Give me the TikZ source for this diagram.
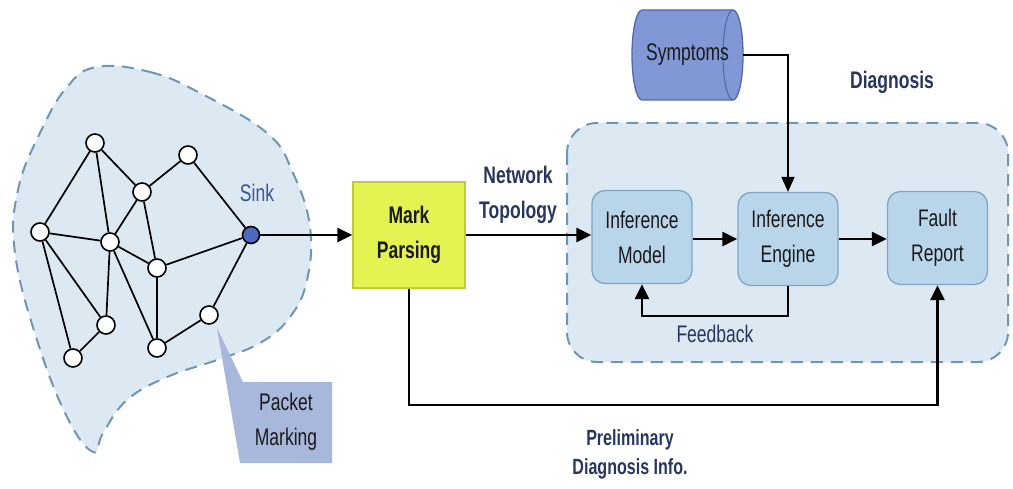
\documentclass[tikz,border=0pt]{standalone}
\usepackage{fontspec}
\newfontfamily\diagfont[FakeStretch=0.73]{Liberation Sans}
\usetikzlibrary{arrows.meta,calc}
\definecolor{regfill}{HTML}{DDE9F2}
\definecolor{regline}{HTML}{6F97B3}
\definecolor{boxfill}{HTML}{B9D5EA}
\definecolor{boxline}{HTML}{7EA6C4}
\definecolor{mpfill}{HTML}{E5F352}
\definecolor{mpline}{HTML}{BCCC3C}
\definecolor{labblue}{HTML}{26365F}
\definecolor{sinkblue}{HTML}{4A6BC0}
\definecolor{symfill}{HTML}{8197D6}
\definecolor{symline}{HTML}{5468A8}
\definecolor{callfill}{HTML}{A8B8DC}
\definecolor{txt}{HTML}{1A1A1A}
\tikzset{
  txtfont/.style={font=\diagfont\fontsize{24}{35}\selectfont, align=center},
  region/.style={fill=regfill, draw=regline, line width=2pt, dash pattern=on 12pt off 8pt},
  gnode/.style={circle, draw=black, line width=1.6pt, fill=white, minimum size=18pt, inner sep=0pt},
  gedge/.style={line width=1.7pt, black},
  ibox/.style={txtfont, text=txt, rounded corners=13pt, fill=boxfill, draw=boxline, line width=1.3pt, minimum width=100pt, minimum height=93pt, inner sep=0pt},
  arr/.style={line width=2.6pt, black, -{Triangle[length=15pt,width=14pt]}},
  thinarr/.style={line width=1.8pt, black, -{Triangle[length=15pt,width=13pt]}},
  lab/.style={txtfont, text=labblue},
  blab/.style={txtfont, text=labblue, font=\diagfont\bfseries\fontsize{24}{35}\selectfont},
}
\begin{document}
\begin{tikzpicture}[x=1pt,y=-1pt]
\useasboundingbox (0,0) rectangle (1013,489);
% network region blob
\draw[region] plot[smooth cycle, tension=0.7] coordinates {
 (97,67) (150,72) (200,93) (267,133) (293,173) (310,227) (307,280) (290,317)
 (260,343) (217,360) (167,377) (127,400) (103,433) (93,452) (67,417) (37,340)
 (15,253) (18,190) (40,133) (67,87)};
% callout
\fill[callfill] (217,328) -- (243,382) -- (332,382) -- (332,463) -- (240,463) -- cycle;
\node[txtfont, text=txt] (pm) at (286,422) {Packet\\Marking};
% graph
\node[gnode] (n1) at (40,232) {};
\node[gnode] (n2) at (95,143) {};
\node[gnode] (n3) at (142,192) {};
\node[gnode] (n4) at (188,155) {};
\node[gnode] (n5) at (110,242) {};
\node[gnode] (n6) at (157,268) {};
\node[gnode] (n7) at (106,325) {};
\node[gnode] (n8) at (73,358) {};
\node[gnode] (n9) at (157,348) {};
\node[gnode] (n10) at (209,315) {};
\node[gnode, fill=sinkblue, minimum size=17pt] (sink) at (251,235) {};
\foreach \a/\b in {n1/n2,n1/n5,n1/n7,n1/n8,n2/n5,n2/n3,n3/n4,n3/n5,n3/n6,n4/sink,n5/n6,n5/n7,n5/n9,n6/sink,n6/n9,n7/n8,n9/n10,n10/sink}
  \draw[gedge] (\a) -- (\b);
\node[txtfont, text=sinkblue!80!black] (sinklab) at (257,193) {Sink};
% diagnosis region
\draw[region, rounded corners=30pt] (567,123) rectangle (1008,362);
\node[blab] (diaglab) at (892,82) {Diagnosis};
% mark parsing
\node[txtfont, font=\diagfont\bfseries\fontsize{24}{35}\selectfont, text=txt, fill=mpfill, draw=mpline, line width=1.3pt, minimum width=112pt, minimum height=106pt, inner sep=0pt] (mp) at (409,235) {Mark\\Parsing};
% boxes
\node[ibox] (im) at (642,237) {Inference\\Model};
\node[ibox] (ie) at (788,239) {Inference\\Engine};
\node[ibox] (fr) at (937.5,238) {Fault\\Report};
% symptoms cylinder
\fill[symfill] (642,10) -- (733,10) arc(-90:90:10 and 45) -- (642,100) arc(90:270:10 and 45) -- cycle;
\draw[symline, line width=1.3pt] (642,10) -- (733,10) arc(-90:90:10 and 45) -- (642,100) arc(90:270:10 and 45) -- cycle;
\draw[symline, line width=1.1pt] (733,10) arc(-90:-270:10 and 45);
\node[txtfont, text=txt, minimum width=111pt, minimum height=90pt, inner sep=0pt] (sym) at (687.5,55) {Symptoms};
% labels
\node[blab] (ntlab) at (518,195) {Network\\Topology};
\node[lab] (fblab) at (715,334) {Feedback};
\node[blab, font=\diagfont\bfseries\fontsize{22}{29}\selectfont] (pdlab) at (630,454) {Preliminary\\Diagnosis Info.};
% connectors
\draw[arr] (sink) -- (mp.west);
\draw[arr] (mp.east) -- (mp.east -| im.west);
\draw[arr] ($(im.east)+(0,2)$) -- ($(ie.west)+(0,0)$);
\draw[arr] (ie.east) -- (ie.east -| fr.west);
\draw[thinarr] (sym.east) -| (ie.north);
\draw[arr] (ie.south) -- ++(0,30) -| (im.south);
\coordinate (pc) at (937.5,405);
\draw[arr] (mp.south) |- (pc) -- (fr.south);
\end{tikzpicture}
\end{document}
